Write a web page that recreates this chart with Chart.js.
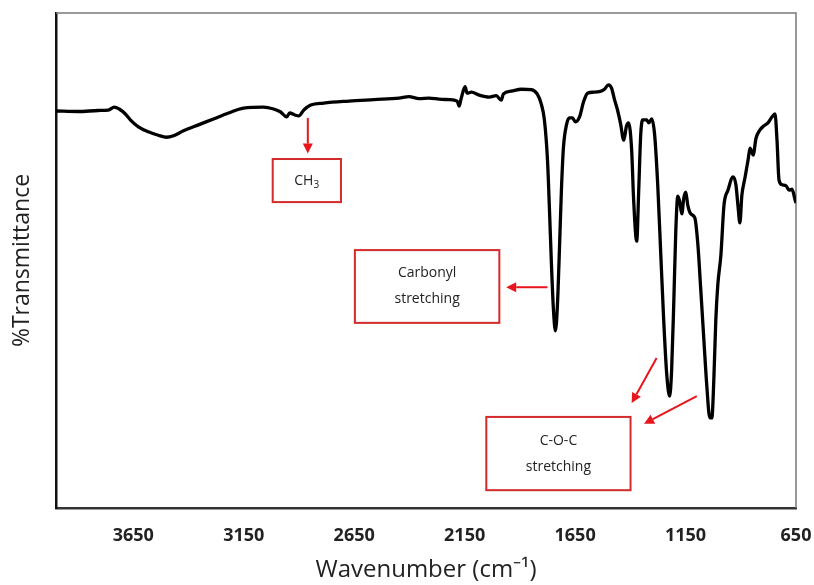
<!DOCTYPE html>
<html>
<head>
<meta charset="utf-8">
<script src="https://cdn.jsdelivr.net/npm/chart.js@4"></script>
<style>
  body { margin: 0; background: #fff; }
  #wrap { width: 814px; height: 585px; }
</style>
</head>
<body>
<div id="wrap"><canvas id="grafico"></canvas></div>
<script>
// FTIR spectrum, wavenumber (cm-1) vs %T
const wavenumbers = [4000, 3900, 3809, 3763, 3736, 3714, 3686, 3659, 3627, 3582,
  3537, 3500, 3468, 3423, 3355, 3287, 3219, 3151, 3060, 3015,
  2983, 2956, 2942, 2919, 2901, 2878, 2847, 2788, 2674, 2561,
  2447, 2402, 2356, 2311, 2266, 2220, 2184, 2175, 2166, 2148,
  2139, 2120, 2084, 2039, 2007, 1984, 1975, 1939, 1893, 1848,
  1821, 1803, 1789, 1775, 1766, 1757, 1748, 1739, 1730, 1721,
  1712, 1703, 1689, 1676, 1662, 1648, 1630, 1612, 1594, 1567,
  1540, 1517, 1499, 1485, 1471, 1458, 1444, 1430, 1417, 1408,
  1394, 1385, 1371, 1362, 1353, 1344, 1326, 1317, 1303, 1290,
  1276, 1262, 1249, 1235, 1222, 1213, 1203, 1194, 1185, 1176,
  1167, 1158, 1149, 1140, 1126, 1108, 1094, 1081, 1067, 1054,
  1040, 1031, 1022, 1013, 1004, 990, 976, 958, 935, 922,
  913, 904, 895, 881, 867, 858, 844, 831, 813, 795,
  777, 759, 745, 736, 727, 713, 695, 681, 668, 654, 650];

const transmittance = [80.2, 80.1, 80.3, 80.4, 81.0, 80.6, 79.6, 78.2, 77.0, 76.0,
  75.3, 74.9, 75.2, 76.2, 77.4, 78.6, 79.8, 80.8, 81.0, 80.6,
  80.0, 79.0, 79.8, 79.4, 79.2, 80.4, 81.4, 81.8, 82.2, 82.5,
  82.8, 83.1, 82.7, 82.8, 82.6, 82.5, 82.2, 81.2, 82.7, 85.1,
  83.8, 84.0, 83.4, 83.0, 83.3, 82.4, 83.6, 84.2, 84.6, 84.5,
  83.6, 81.6, 78.4, 70.3, 60.2, 49.1, 40.0, 35.8, 41.0, 52.1,
  64.2, 72.7, 77.4, 78.8, 78.8, 78.0, 79.0, 82.0, 83.8, 84.0,
  84.1, 84.6, 85.5, 84.8, 82.4, 80.4, 77.6, 74.3, 77.2, 77.8,
  72.3, 62.2, 53.9, 64.2, 75.4, 78.4, 78.4, 77.8, 78.6, 75.4,
  65.3, 51.1, 38.0, 26.9, 22.6, 27.9, 42.0, 56.2, 63.0, 61.8,
  59.4, 62.6, 63.8, 61.2, 59.4, 58.6, 53.1, 44.0, 33.9, 24.8,
  18.2, 18.2, 25.9, 38.0, 45.1, 51.1, 61.2, 64.2, 66.9, 65.3,
  61.2, 57.6, 63.2, 66.7, 70.3, 72.7, 71.3, 74.7, 76.4, 77.2,
  77.8, 79.0, 79.6, 74.3, 66.3, 65.3, 65.1, 64.2, 64.4, 62.2, 61.6];

const tickValues = [3650, 3150, 2650, 2150, 1650, 1150, 650];

// band labels: box corners (wavenumber, %T) and text lines
const boxes = [
  { x1: 3019, x2: 2710, y1: 70.5, y2: 61.8, lines: ['CH', '3'] },
  { x1: 2647, x2: 1993, y1: 52.1, y2: 37.4, lines: ['Carbonyl', 'stretching'] },
  { x1: 2052, x2: 1399, y1: 18.4, y2: 3.6, lines: ['C-O-C', 'stretching'] }
];
// arrows: from -> to (head)
const arrows = [
  { x1: 2860, y1: 78.8, x2: 2860, y2: 71.6 },
  { x1: 1775, y1: 44.6, x2: 1962, y2: 44.6 },
  { x1: 1281, y1: 30.3, x2: 1394, y2: 21.2 },
  { x1: 1099, y1: 22.6, x2: 1338, y2: 17.0 }
];

const points = wavenumbers.map((w, i) => ({ x: w, y: transmittance[i] }));

const notas = {
  id: 'notas',
  beforeDatasetsDraw(chart) {
    const { ctx, chartArea: a } = chart;
    ctx.save();
    ctx.strokeStyle = '#7a7a7a';
    ctx.lineWidth = 1.5;
    ctx.beginPath();
    ctx.moveTo(a.left, a.top);
    ctx.lineTo(a.right, a.top);
    ctx.lineTo(a.right, a.bottom);
    ctx.stroke();
    ctx.restore();
  },
  afterDatasetsDraw(chart) {
    const { ctx } = chart;
    const sx = chart.scales.x, sy = chart.scales.y;
    ctx.save();
    ctx.lineWidth = 2;
    ctx.font = '14px "Open Sans"';
    ctx.textBaseline = 'middle';
    boxes.forEach(b => {
      const l = sx.getPixelForValue(b.x1), r = sx.getPixelForValue(b.x2);
      const t = sy.getPixelForValue(b.y1), bo = sy.getPixelForValue(b.y2);
      ctx.fillStyle = '#fff';
      ctx.fillRect(l, t, r - l, bo - t);
      ctx.strokeStyle = '#d42a2a';
      ctx.strokeRect(l, t, r - l, bo - t);
      ctx.fillStyle = '#222';
      const cx = (l + r) / 2, cy = (t + bo) / 2;
      if (b.lines[1] === '3') {
        // CH with subscript 3
        const w = ctx.measureText('CH').width;
        ctx.textAlign = 'left';
        ctx.fillText('CH', cx - (w + 6) / 2, cy);
        ctx.font = '10px "Open Sans"';
        ctx.fillText('3', cx - (w + 6) / 2 + w, cy + 5);
        ctx.font = '14px "Open Sans"';
      } else {
        ctx.textAlign = 'center';
        ctx.fillText(b.lines[0], cx, cy - 13);
        ctx.fillText(b.lines[1], cx, cy + 13);
      }
    });
    ctx.strokeStyle = '#e8151b';
    ctx.fillStyle = '#e8151b';
    arrows.forEach(ar => {
      const x1 = sx.getPixelForValue(ar.x1), y1 = sy.getPixelForValue(ar.y1);
      const x2 = sx.getPixelForValue(ar.x2), y2 = sy.getPixelForValue(ar.y2);
      const ang = Math.atan2(y2 - y1, x2 - x1);
      const hl = 10, hw = 5;
      const bx = x2 - hl * Math.cos(ang), by = y2 - hl * Math.sin(ang);
      ctx.beginPath();
      ctx.moveTo(x1, y1);
      ctx.lineTo(bx, by);
      ctx.stroke();
      ctx.beginPath();
      ctx.moveTo(x2, y2);
      ctx.lineTo(bx - hw * Math.sin(ang), by + hw * Math.cos(ang));
      ctx.lineTo(bx + hw * Math.sin(ang), by - hw * Math.cos(ang));
      ctx.closePath();
      ctx.fill();
    });
    ctx.restore();
  }
};

new Chart(document.getElementById('grafico'), {
  type: 'line',
  data: {
    datasets: [{
      data: points,
      borderColor: '#000',
      borderWidth: 3.3,
      pointRadius: 0,
      cubicInterpolationMode: 'monotone',
      fill: false
    }]
  },
  options: {
    responsive: true,
    maintainAspectRatio: false,
    animation: false,
    layout: { padding: { top: 13, right: 18, left: 0, bottom: 0 } },
    plugins: { legend: { display: false }, tooltip: { enabled: false } },
    scales: {
      x: {
        type: 'linear',
        reverse: true,
        min: 650,
        max: 4000,
        afterBuildTicks: (scale) => { scale.ticks = tickValues.map(v => ({ value: v })); },
        afterFit: (scale) => {
          scale.height = 77;
          scale.paddingLeft = 0;
          scale.paddingRight = 0;
        },
        grid: { display: false, drawTicks: false },
        border: { display: true, color: '#333', width: 2.5 },
        ticks: {
          padding: 17,
          color: '#222',
          maxRotation: 0,
          autoSkip: false,
          callback: (v) => String(v),
          font: { family: '"Open Sans"', size: 18, weight: 'bold' }
        },
        title: {
          display: true,
          text: 'Wavenumber (cm⁻¹)',
          color: '#222',
          padding: { top: 0, bottom: 0 },
          font: { family: '"Open Sans"', size: 24 }
        }
      },
      y: {
        min: 0,
        max: 100,
        afterFit: (scale) => { scale.width = 56; },
        grid: { display: false, drawTicks: false },
        border: { display: true, color: '#111', width: 2.5 },
        ticks: { display: false },
        title: {
          display: true,
          text: '%Transmittance',
          color: '#222',
          padding: { top: 9, bottom: 0 },
          font: { family: '"Open Sans"', size: 23 }
        }
      }
    }
  },
  plugins: [notas]
});
</script>
</body>
</html>
